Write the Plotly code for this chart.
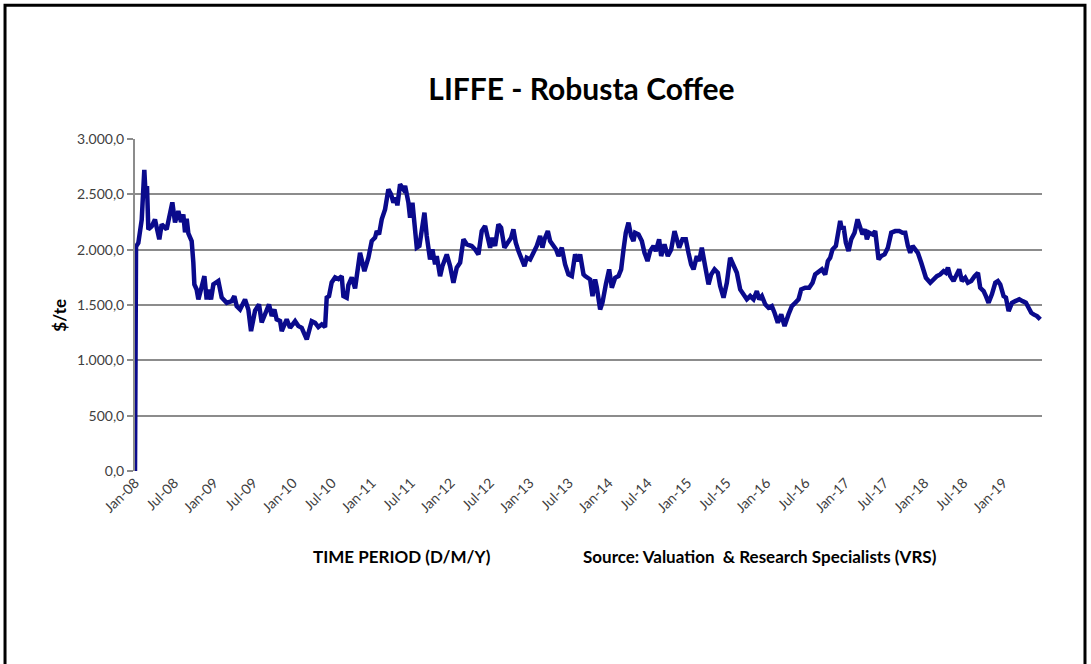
import pandas as pd
import plotly.graph_objects as go

# position along the time axis
year_pos = [
    2008.000, 2008.013, 2008.042, 2008.085, 2008.118, 2008.135, 2008.152, 2008.169, 2008.211, 2008.253,
    2008.308, 2008.338, 2008.401, 2008.444, 2008.473, 2008.507, 2008.549, 2008.583, 2008.612, 2008.634,
    2008.655, 2008.676, 2008.718, 2008.739, 2008.752, 2008.781, 2008.803, 2008.836, 2008.879, 2008.908,
    2008.929, 2008.963, 2008.993, 2009.056, 2009.098, 2009.162, 2009.225, 2009.259, 2009.288, 2009.331,
    2009.394, 2009.436, 2009.470, 2009.521, 2009.571, 2009.605, 2009.647, 2009.698, 2009.732, 2009.766,
    2009.795, 2009.838, 2009.859, 2009.922, 2009.964, 2010.028, 2010.070, 2010.112, 2010.176, 2010.218,
    2010.239, 2010.281, 2010.323, 2010.366, 2010.408, 2010.429, 2010.458, 2010.492, 2010.535, 2010.577,
    2010.619, 2010.640, 2010.682, 2010.703, 2010.746, 2010.788,
    2010.851, 2010.906, 2010.957, 2010.999, 2011.041, 2011.063, 2011.092, 2011.126, 2011.168, 2011.210,
    2011.244, 2011.274, 2011.303, 2011.324, 2011.358, 2011.400, 2011.422, 2011.464, 2011.485, 2011.515,
    2011.540, 2011.570, 2011.603, 2011.633, 2011.667, 2011.696, 2011.738, 2011.768, 2011.802, 2011.823,
    2011.865, 2011.895, 2011.950, 2011.992, 2012.034, 2012.076, 2012.119, 2012.161, 2012.203, 2012.266,
    2012.309, 2012.351, 2012.393, 2012.435, 2012.469, 2012.499, 2012.528, 2012.562, 2012.604, 2012.638,
    2012.680, 2012.731, 2012.765, 2012.794, 2012.824, 2012.858, 2012.900, 2012.934, 2012.963, 2013.006,
    2013.048, 2013.090, 2013.132, 2013.162, 2013.187, 2013.230, 2013.259, 2013.301, 2013.335, 2013.365,
    2013.407, 2013.449, 2013.491, 2013.534, 2013.576, 2013.610, 2013.639, 2013.682,
    2013.703, 2013.766, 2013.796, 2013.829, 2013.851, 2013.893, 2013.922, 2013.965, 2014.007, 2014.041,
    2014.083, 2014.125, 2014.159, 2014.189, 2014.218, 2014.252, 2014.286, 2014.315, 2014.336, 2014.379,
    2014.421, 2014.455, 2014.493, 2014.526, 2014.569, 2014.598, 2014.640, 2014.666, 2014.708, 2014.750,
    2014.793, 2014.835, 2014.864, 2014.894, 2014.936, 2014.978, 2015.012, 2015.046, 2015.076, 2015.118,
    2015.147, 2015.181, 2015.223, 2015.266, 2015.300, 2015.342, 2015.384, 2015.413, 2015.456, 2015.498,
    2015.540, 2015.583, 2015.625, 2015.667, 2015.709, 2015.751, 2015.794, 2015.836, 2015.878, 2015.908,
    2015.942, 2015.984, 2016.026, 2016.068, 2016.102, 2016.144, 2016.187, 2016.229, 2016.279, 2016.322,
    2016.364, 2016.406, 2016.440, 2016.491, 2016.541, 2016.584,
    2016.617, 2016.660, 2016.702, 2016.744, 2016.778, 2016.807, 2016.837, 2016.879, 2016.913, 2016.934,
    2016.955, 2016.976, 2017.006, 2017.040, 2017.074, 2017.116, 2017.154, 2017.188, 2017.217, 2017.251,
    2017.272, 2017.302, 2017.344, 2017.378, 2017.399, 2017.420, 2017.454, 2017.496, 2017.538, 2017.581,
    2017.631, 2017.682, 2017.724, 2017.758, 2017.792, 2017.821, 2017.851, 2017.885, 2017.918, 2017.961,
    2017.990, 2018.020, 2018.075, 2018.117, 2018.159, 2018.201, 2018.244, 2018.273, 2018.299, 2018.328,
    2018.370, 2018.400, 2018.442, 2018.476, 2018.518, 2018.552, 2018.594, 2018.637, 2018.679, 2018.708,
    2018.751, 2018.780, 2018.814, 2018.856, 2018.899, 2018.932, 2018.962, 2019.004, 2019.034, 2019.068,
    2019.110, 2019.152, 2019.203, 2019.245, 2019.287, 2019.321, 2019.355, 2019.384, 2019.427, 2019.469,
]

# $/te
price = [
    0, 2030, 2060, 2270, 2720, 2485, 2575, 2183, 2210, 2273,
    2093, 2228, 2183, 2364, 2427, 2246, 2349, 2250, 2318, 2156,
    2280, 2147, 2077, 1885, 1686, 1640, 1550, 1640, 1761, 1550,
    1640, 1550, 1686, 1716, 1568, 1520, 1535, 1580, 1490, 1460,
    1550, 1460, 1264, 1450, 1505, 1342, 1420, 1505, 1400, 1460,
    1370, 1355, 1264, 1370, 1294, 1354, 1310, 1294, 1189, 1290,
    1354, 1340, 1300, 1325, 1300, 1568, 1580, 1704, 1750, 1735,
    1760, 1580, 1565, 1680, 1750, 1650,
    1972, 1806, 1927, 2078, 2108, 2168, 2138, 2274, 2364, 2545,
    2500, 2425, 2470, 2400, 2590, 2545, 2575, 2425, 2289, 2425,
    2274, 2018, 2033, 2213, 2334, 2123, 1912, 2002, 1867, 1942,
    1761, 1852, 1957, 1852, 1701, 1837, 1882, 2093, 2048, 2033,
    2002, 1957, 2168, 2213, 2093, 2018, 2108, 2033, 2228, 2198,
    2018, 2063, 2108, 2183, 2063, 1987, 1912, 1852, 1927, 1912,
    1972, 2033, 2123, 2018, 2093, 2168, 2078, 2033, 2002, 1942,
    2018, 1867, 1776, 1761, 1957, 1897, 1957, 1776,
    1761, 1731, 1580, 1731, 1656, 1460, 1520, 1686, 1822, 1656,
    1746, 1761, 1822, 2002, 2153, 2244, 2123, 2078, 2153, 2138,
    2078, 1972, 1897, 1987, 2033, 1987, 2093, 1942, 2048, 1942,
    2002, 2168, 2093, 2018, 2093, 2093, 1972, 1867, 1822, 1942,
    1897, 2018, 1852, 1686, 1776, 1822, 1791, 1671, 1566, 1701,
    1927, 1852, 1791, 1641, 1596, 1551, 1581, 1551, 1626, 1551,
    1581, 1506, 1475, 1490, 1430, 1340, 1415, 1309, 1415, 1490,
    1520, 1551, 1641, 1656, 1656, 1701,
    1776, 1806, 1822, 1776, 1897, 1927, 2002, 2033, 2183, 2259,
    2183, 2213, 2063, 1987, 2093, 2153, 2274, 2199, 2138, 2183,
    2093, 2153, 2138, 2168, 2063, 1912, 1942, 1957, 2018, 2153,
    2168, 2168, 2153, 2153, 2033, 1972, 2033, 2002, 1972, 1882,
    1822, 1746, 1701, 1731, 1761, 1776, 1806, 1791, 1837, 1761,
    1716, 1761, 1822, 1716, 1746, 1701, 1716, 1761, 1791, 1656,
    1626, 1580, 1520, 1596, 1701, 1716, 1686, 1580, 1566, 1445,
    1520, 1535, 1551, 1535, 1520, 1475, 1430, 1415, 1400, 1370,
]

title_text = "LIFFE - Robusta Coffee"
y_title = "$/te"
x_caption = "TIME PERIOD (D/M/Y)"
source_caption = "Source: Valuation  & Research Specialists (VRS)"

base = pd.Timestamp("2008-01-01")
dates = [base + pd.to_timedelta((y - 2008) * 365.25, unit="D") for y in year_pos]

font = "Lato, 'Open Sans', Arial, sans-serif"

fig = go.Figure()
fig.add_trace(go.Scatter(
    x=dates, y=price, mode="lines",
    line=dict(color="#0a0a8c", width=4.5),
    showlegend=False, hoverinfo="x+y",
))

fig.update_layout(
    width=1091, height=664,
    paper_bgcolor="white", plot_bgcolor="white",
    margin=dict(l=135, r=49, t=139, b=193),
    separators=",.",
    font=dict(family=font, color="#404040"),
    title=dict(
        text=title_text, x=0.533, xanchor="center", y=0.865, yanchor="middle",
        font=dict(family=font, size=30, color="black", weight="bold"),
    ),
    xaxis=dict(
        type="date",
        range=["2008-01-01", "2019-06-29"],
        tickformat="%b-%y", dtick="M6", tick0="2008-01-01",
        tickangle=-45, tickfont=dict(size=14, color="#404040"),
        showgrid=False, showline=False, zeroline=False,
        ticks="",
    ),
    yaxis=dict(
        range=[0, 3000], dtick=500, tickformat=",.1f",
        tickfont=dict(size=14, color="#404040"),
        showgrid=True, gridcolor="#8c8c8c", gridwidth=2,
        showline=True, linecolor="#8c8c8c", linewidth=2,
        ticks="outside", ticklen=6, tickcolor="#8c8c8c", tickwidth=2,
        zeroline=False,
    ),
)

fig.add_annotation(
    text=y_title, xref="paper", yref="paper", x=-0.083, y=0.47,
    xanchor="center", yanchor="middle", textangle=-90, showarrow=False,
    font=dict(family=font, size=17, color="black", weight="bold"),
)
fig.add_annotation(
    text=x_caption, xref="paper", yref="paper", x=0.294, y=-0.257,
    xanchor="center", yanchor="middle", showarrow=False,
    font=dict(family=font, size=17, color="black", weight="bold"),
)
fig.add_annotation(
    text=source_caption, xref="paper", yref="paper", x=0.689, y=-0.257,
    xanchor="center", yanchor="middle", showarrow=False,
    font=dict(family=font, size=17, color="black", weight="bold"),
)

# outer frame, open at the bottom edge of the page
fig.add_shape(
    type="rect", xref="paper", yref="paper",
    x0=-0.1433, x1=1.0474, y0=-0.65, y1=1.403,
    line=dict(color="black", width=3), fillcolor="rgba(0,0,0,0)", layer="above",
)

# drop the page's default body margin so the figure sits at the top-left corner
fig.write_html(
    "out.html",
    config={"displayModeBar": False},
    post_script="document.body.style.margin='0';",
)
